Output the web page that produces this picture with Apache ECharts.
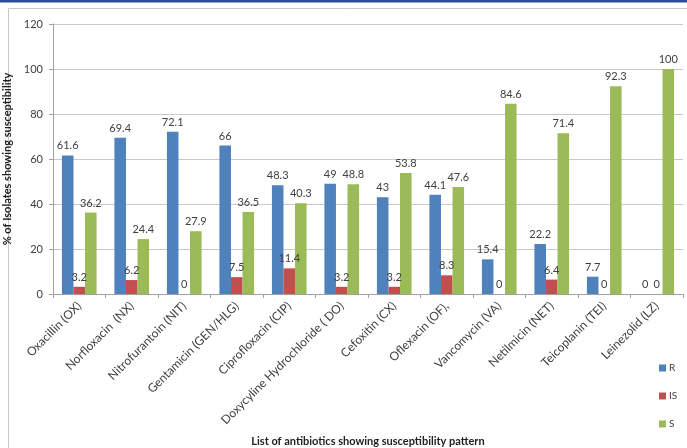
<!DOCTYPE html>
<html>
<head>
<meta charset="utf-8">
<script src="https://cdn.jsdelivr.net/npm/echarts@6/dist/echarts.min.js"></script>
<style>html,body{margin:0;padding:0;background:#fff;}#c{width:687px;height:448px;}</style>
</head>
<body>
<div id="c"></div>
<script>
var categories = ["Oxacillin (OX)", "Norfloxacin  (NX)", "Nitrofurantoin (NIT)", "Gentamicin (GEN/HLG)", "Ciprofloxacin (CIP)", "Doxycyline Hydrochloride ( DO)", "Cefoxitin (CX)", "Oflexacin (OF),", "Vancomycin (VA)", "Netilmicin (NET)", "Teicoplanin (TEI)", "Leinezolid (LZ)"];
var seriesR = [61.6, 69.4, 72.1, 66, 48.3, 49, 43, 44.1, 15.4, 22.2, 7.7, 0];
var seriesIS = [3.2, 6.2, 0, 7.5, 11.4, 3.2, 3.2, 8.3, 0, 6.4, 0, 0];
var seriesS = [36.2, 24.4, 27.9, 36.5, 40.3, 48.8, 53.8, 47.6, 84.6, 71.4, 92.3, 100];
var yTicks = [0, 20, 40, 60, 80, 100, 120];

var FONT = 'Lato, "Open Sans", sans-serif';
var chart = echarts.init(document.getElementById('c'), null, {renderer: 'canvas'});
function mk(name, data, color) {
  return {
    name: name, type: 'bar', data: data, barGap: '0%', barCategoryGap: '34%',
    itemStyle: {color: color},
    label: {show: true, position: 'top', distance: 4, color: '#404040', fontSize: 11, fontFamily: FONT},
    emphasis: {disabled: true}
  };
}
chart.setOption({
  animation: false,
  backgroundColor: '#fff',
  graphic: [
    {type: 'rect', shape: {x: 0, y: 0, width: 687, height: 2.5}, style: {fill: '#2D4E97'}},
    {type: 'rect', shape: {x: 8.5, y: 8.5, width: 700, height: 460}, style: {fill: 'none', stroke: '#C8C8C8', lineWidth: 1}}
  ],
  grid: {left: 53, right: 4, top: 24, bottom: 154, containLabel: false, outerBoundsMode: 'none'},
  legend: {
    orient: 'vertical', left: 654, top: 358, itemWidth: 7, itemHeight: 7, itemGap: 18,
    icon: 'rect', data: ['R', 'IS', 'S'],
    textStyle: {fontSize: 10, color: '#404040', fontFamily: FONT, padding: [0, 0, 0, -2]}
  },
  xAxis: {
    type: 'category', data: categories,
    name: 'List of antibiotics showing susceptibility pattern', nameLocation: 'middle', nameGap: 142,
    nameTextStyle: {fontSize: 11, fontWeight: 'bold', color: '#222', fontFamily: FONT},
    axisLine: {lineStyle: {color: '#A0A0A0'}},
    axisTick: {show: true, interval: 0, length: 4, lineStyle: {color: '#A0A0A0'}},
    axisLabel: {interval: 0, rotate: 45, fontSize: 12, color: '#404040', fontFamily: FONT, margin: 10}
  },
  yAxis: {
    type: 'value', min: yTicks[0], max: yTicks[yTicks.length - 1], interval: 20,
    name: '% of Isolates showing susceptibility', nameLocation: 'middle', nameGap: 33,
    nameTextStyle: {fontSize: 11, fontWeight: 'bold', color: '#222', fontFamily: FONT},
    axisLine: {show: true, lineStyle: {color: '#A0A0A0'}},
    axisTick: {show: true, length: 4, lineStyle: {color: '#A0A0A0'}},
    axisLabel: {fontSize: 11, color: '#404040', fontFamily: FONT, margin: 10},
    splitLine: {lineStyle: {color: '#C8C8C8'}}
  },
  series: [mk('R', seriesR, '#4F81BD'), mk('IS', seriesIS, '#C0504D'), mk('S', seriesS, '#9BBB59')]
});
</script>
</body>
</html>
